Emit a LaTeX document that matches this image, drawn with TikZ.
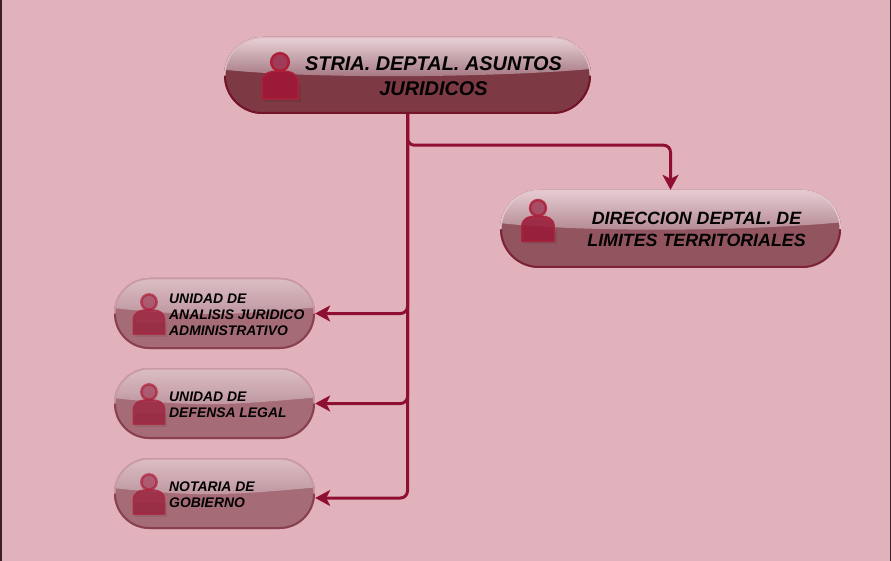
\documentclass[tikz,border=0pt]{standalone}
\usepackage{fontspec}
\setmainfont{Liberation Sans}
\usetikzlibrary{arrows.meta,shapes.misc}
\definecolor{fondo}{HTML}{E1B2BC}
\definecolor{linea}{HTML}{8F0F33}
\definecolor{borde}{HTML}{3C2228}
\definecolor{iconofill}{HTML}{9A1A38}
\definecolor{iconoborde}{HTML}{AE1F3A}
\definecolor{iconohead}{HTML}{A03C58}
% gloss top, gloss end, body, lower rim, upper rim of each level
\definecolor{altoA}{HTML}{E9D2D7}\definecolor{finA}{HTML}{8E5A66}\definecolor{cuerpoA}{HTML}{7D3A44}\definecolor{rimA}{HTML}{741428}\definecolor{luzA}{HTML}{DDBCC4}
\definecolor{altoB}{HTML}{E6CDD3}\definecolor{finB}{HTML}{A3727D}\definecolor{cuerpoB}{HTML}{925560}\definecolor{rimB}{HTML}{7E2238}\definecolor{luzB}{HTML}{E3C8CE}
\definecolor{altoC}{HTML}{DDBEC5}\definecolor{finC}{HTML}{B48A94}\definecolor{cuerpoC}{HTML}{A56C77}\definecolor{rimC}{HTML}{8A3F50}\definecolor{luzC}{HTML}{C99AA5}
\begin{document}
\begin{tikzpicture}[x=1pt,y=-1pt]
	% size of the page
	\def\anchopag{891}
	\def\altopag{561}
	% person icon: x of centre, y of head, scale, opacity
	\newcommand{\persona}[4]{
		\begin{scope}[shift={(#1,#2)},scale=#3,opacity=#4]
			\fill[black,opacity=0.08] (-16,24) rectangle (21,40);
			\draw[draw=iconoborde,fill=iconofill,line width=1.5pt] (-18,37) -- (-18,21) .. controls (-18,12) and (-12,9) .. (0,9) .. controls (12,9) and (18,12) .. (18,21) -- (18,37) -- cycle;
			\draw[draw=iconoborde,fill=iconohead,line width=2.5pt] (0,0) circle (8.8);
		\end{scope}
	}
	% node style definition: colour of gloss top, gloss end, body, lower rim, upper rim, radius
	\tikzset{caja/.style n args={6}{rounded rectangle, fill=#3, inner sep=0pt, path picture={
		\fill[top color=#1,bottom color=#2,middle color=#1!28!#2] (path picture bounding box.north west) -- (path picture bounding box.north east) -- ([yshift=0.17*#6]path picture bounding box.east) .. controls ([xshift=-2.4*#6,yshift=-0.05*#6]path picture bounding box.east) and ([xshift=2.4*#6,yshift=-0.1*#6]path picture bounding box.west) .. ([yshift=0.15*#6]path picture bounding box.west) -- cycle;
		\draw[#4,line width=4pt] (path picture bounding box.west) arc[start angle=180,end angle=270,radius=#6] -- ([xshift=-#6]path picture bounding box.south east) arc[start angle=270,end angle=360,radius=#6];
		\draw[#5,line width=3pt] (path picture bounding box.west) arc[start angle=180,end angle=90,radius=#6] -- ([xshift=-#6]path picture bounding box.north east) arc[start angle=90,end angle=0,radius=#6];
	}}}
	\tikzstyle{nivelA} = [caja={altoA}{finA}{cuerpoA}{rimA}{luzA}{38.5pt}, minimum width=367pt, minimum height=77pt];
	\tikzstyle{nivelB} = [caja={altoB}{finB}{cuerpoB}{rimB}{luzB}{39pt}, minimum width=341pt, minimum height=78pt];
	\tikzstyle{nivelC} = [caja={altoC}{finC}{cuerpoC}{rimC}{luzC}{35.5pt}, minimum width=201pt, minimum height=71pt];
	\tikzstyle{texto} = [font=\bfseries\itshape, text=black, inner sep=0pt];
	\tikzstyle{textoA} = [texto, align=center, font=\fontsize{19.9}{25}\selectfont\bfseries\itshape];
	\tikzstyle{textoB} = [texto, align=center, font=\fontsize{17.8}{22}\selectfont\bfseries\itshape];
	\tikzstyle{textoC} = [texto, align=left, anchor=west, font=\fontsize{13.9}{16}\selectfont\bfseries\itshape];
	\tikzstyle{conector} = [draw=linea, line width=3pt, rounded corners=7pt, -{Stealth[length=15pt,width=16pt,inset=4pt]}];
	% background
	\fill[fondo] (0,0) rectangle (\anchopag,\altopag);
	\fill[borde] (0,0) rectangle (1.5,\altopag);
	\fill[borde] (\anchopag-1.5,0) rectangle (\anchopag,\altopag);
	% boxes
	\node[nivelA] (stria) at (407.5,75.5) {};
	\node[nivelB] (direccion) at (670.5,229) {};
	\node[nivelC] (analisis) at (214.5,313.5) {};
	\node[nivelC] (defensa) at (214.5,403.5) {};
	\node[nivelC] (notaria) at (214.5,493.5) {};
	% icons
	\persona{280}{62}{1}{1}
	\persona{538}{208}{0.9}{0.85}
	\persona{149}{302}{0.87}{0.7}
	\persona{149}{392}{0.87}{0.7}
	\persona{149}{482}{0.87}{0.7}
	% labels
	\node[textoA] (striatxt) at (433.5,76.5) {STRIA. DEPTAL. ASUNTOS\\JURIDICOS};
	\node[textoB] (direcciontxt) at (696.5,229.5) {DIRECCION DEPTAL. DE\\LIMITES TERRITORIALES};
	\node[textoC] (analisistxt) at (169,314.5) {UNIDAD DE\\ANALISIS JURIDICO\\ADMINISTRATIVO};
	\node[textoC] (defensatxt) at (169,404.5) {UNIDAD DE\\DEFENSA LEGAL};
	\node[textoC] (notariatxt) at (169,494.5) {NOTARIA DE\\GOBIERNO};
	% connectors
	\draw[conector] (stria.south) -- ++(0,31) -| (direccion.north);
	\draw[conector] (stria.south) |- (analisis.east);
	\draw[conector] (stria.south) |- (defensa.east);
	\draw[conector] (stria.south) |- ([yshift=-4.5pt]notaria.east);
\end{tikzpicture}
\end{document}
